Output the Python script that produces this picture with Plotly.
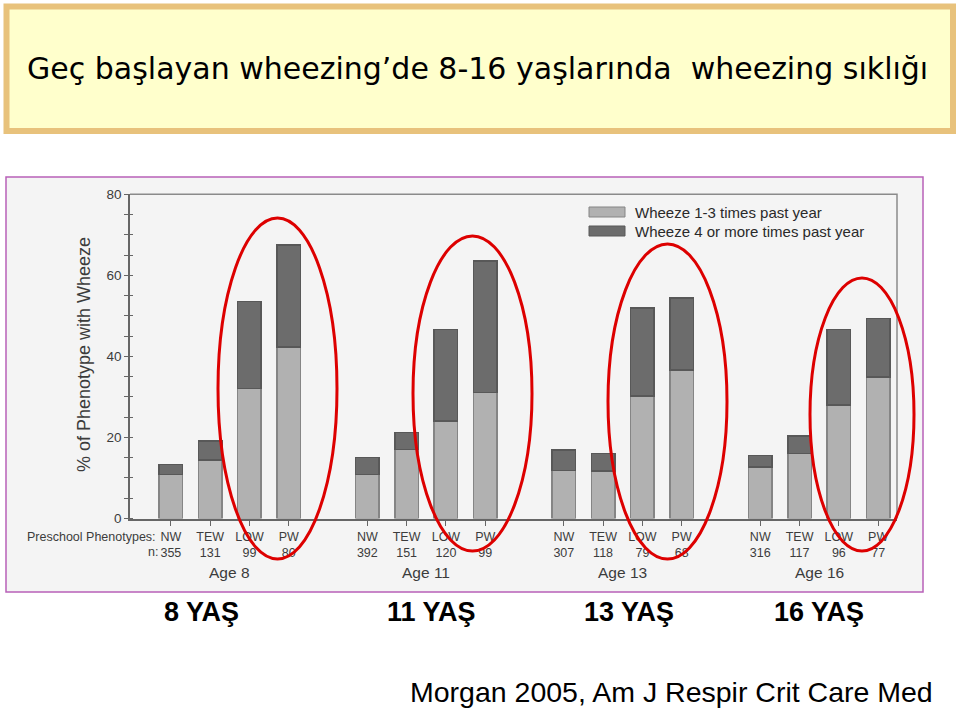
import plotly.graph_objects as go

W, H = 960, 708

# data (Morgan 2005)
ages = ["8", "11", "13", "16"]
phenotypes = ["NW", "TEW", "LOW", "PW"]
n_counts = [
    [355, 131, 99, 80],
    [392, 151, 120, 99],
    [307, 118, 79, 68],
    [316, 117, 96, 77],
]
wheeze_1_3 = [
    [10.9, 14.4, 32.1, 42.3],
    [10.9, 17.0, 24.0, 31.1],
    [11.9, 11.7, 30.2, 36.6],
    [12.7, 16.0, 28.0, 34.9],
]
wheeze_4_plus = [
    [2.4, 4.7, 21.4, 25.2],
    [4.1, 4.2, 22.7, 32.5],
    [5.0, 4.3, 21.7, 17.8],
    [2.9, 4.4, 18.7, 14.5],
]
series_names = ["Wheeze 1-3 times past year", "Wheeze 4 or more times past year"]
y_ticks = [0, 20, 40, 60, 80]

title_text = "Geç başlayan wheezing’de 8-16 yaşlarında  wheezing sıklığı"
citation = "Morgan 2005, Am J Respir Crit Care Med"


def px(x):
    return x / W


def py(y):
    return 1 - y / H


# bar positions: 4 bars per age, one empty slot between ages
positions = []
tick_text = []
light_vals = []
dark_vals = []
for g, age in enumerate(ages):
    for i, ph in enumerate(phenotypes):
        positions.append(g * 5 + i)
        tick_text.append(f"{ph}<br>{n_counts[g][i]}")
        light_vals.append(wheeze_1_3[g][i])
        dark_vals.append(wheeze_4_plus[g][i])

fig = go.Figure()
fig.add_trace(
    go.Bar(
        x=positions,
        y=light_vals,
        name=series_names[0],
        width=0.6,
        marker={"color": "#b1b1b1", "line": {"color": "#858585", "width": 1.5}},
    )
)
fig.add_trace(
    go.Bar(
        x=positions,
        y=dark_vals,
        name=series_names[1],
        width=0.6,
        marker={"color": "#6c6c6c", "line": {"color": "#585858", "width": 1.5}},
    )
)

axis_font = {"family": "Liberation Sans, Arial", "size": 12.5, "color": "#3c3c3c"}

fig.update_layout(
    width=W,
    height=H,
    barmode="stack",
    showlegend=False,
    margin={"l": 0, "r": 0, "t": 0, "b": 0},
    paper_bgcolor="white",
    plot_bgcolor="rgba(0,0,0,0)",
    xaxis={
        "domain": [px(130), px(897)],
        "range": [-1.04, 18.48],
        "tickvals": positions,
        "ticktext": tick_text,
        "ticks": "outside",
        "ticklen": 5,
        "tickcolor": "#666",
        "tickfont": axis_font,
        "showline": True,
        "linecolor": "#666",
        "linewidth": 2,
        "showgrid": False,
        "zeroline": False,
        "automargin": False,
    },
    yaxis={
        "domain": [py(518.5), py(194.3)],
        "range": [0, 80],
        "tickvals": list(range(0, 81, 5)),
        "ticktext": [str(v) if v in y_ticks else "" for v in range(0, 81, 5)],
        "ticks": "outside",
        "ticklen": 4,
        "tickcolor": "#666",
        "tickfont": {"family": "Liberation Sans, Arial", "size": 13.5, "color": "#3c3c3c"},
        "minor": {"dtick": 5, "ticks": "inside", "ticklen": 3, "tickcolor": "#666"},
        "showline": True,
        "linecolor": "#666",
        "linewidth": 1.5,
        "showgrid": False,
        "zeroline": False,
        "automargin": False,
    },
)

shapes = []
# title box
shapes.append(
    dict(type="rect", xref="paper", yref="paper",
         x0=px(6.5), x1=px(953), y0=py(6.5), y1=py(131),
         fillcolor="#ffffcc", line={"color": "#e8c27c", "width": 6}, layer="below")
)
# chart frame
shapes.append(
    dict(type="rect", xref="paper", yref="paper",
         x0=px(6), x1=px(923), y0=py(177), y1=py(592),
         fillcolor="#f4f4f4", line={"color": "#b860b8", "width": 1.5}, layer="below")
)
# top / right plot border
shapes.append(
    dict(type="path", xref="paper", yref="paper",
         path=f"M {px(130)} {py(194.3)} L {px(897)} {py(194.3)} L {px(897)} {py(518.5)}",
         line={"color": "#8a8a8a", "width": 1.5})
)
# legend swatches
shapes.append(dict(type="rect", xref="paper", yref="paper", x0=px(589), x1=px(625),
                   y0=py(207), y1=py(217), fillcolor="#b1b1b1",
                   line={"color": "#858585", "width": 1}))
shapes.append(dict(type="rect", xref="paper", yref="paper", x0=px(589), x1=px(625),
                   y0=py(226), y1=py(236), fillcolor="#6c6c6c",
                   line={"color": "#585858", "width": 1}))
# red ellipses around LOW / PW
for (x0, x1, y0, y1) in [(218, 337, 218, 559), (413, 532, 236, 551),
                         (608, 727, 244, 559), (810, 914, 278, 551)]:
    shapes.append(dict(type="circle", xref="paper", yref="paper",
                       x0=px(x0), x1=px(x1), y0=py(y1), y1=py(y0),
                       line={"color": "#dd0000", "width": 3}))
fig.update_layout(shapes=shapes)

annotations = [
    dict(x=px(477), y=py(68), text=title_text,
         font={"family": "DejaVu Sans", "size": 30, "color": "black"}),
    dict(x=px(84), y=py(355), text="% of Phenotype with Wheeze", textangle=-90,
         font={"family": "Liberation Sans, Arial", "size": 18, "color": "#3c3c3c"}),
    dict(x=px(158), y=py(537), text="Preschool Phenotypes:", xanchor="right", font=axis_font),
    dict(x=px(160), y=py(552), text="n:", xanchor="right", font=axis_font),
    dict(x=px(633), y=py(212), text=series_names[0], xanchor="left",
         font={"family": "Liberation Sans, Arial", "size": 15, "color": "#2a2a2a"}),
    dict(x=px(633), y=py(231), text=series_names[1], xanchor="left",
         font={"family": "Liberation Sans, Arial", "size": 15, "color": "#2a2a2a"}),
    dict(x=px(935), y=py(692), xanchor="right", text=citation,
         font={"family": "Liberation Sans, Arial", "size": 28.5, "color": "black"}),
]
for g, age in enumerate(ages):
    annotations.append(
        dict(x=g * 5 + 1.5, xref="x", y=py(572), text=f"Age {age}",
             font={"family": "Liberation Sans, Arial", "size": 15.5, "color": "#3c3c3c"})
    )
    annotations.append(
        dict(x=[px(201), px(431), px(629), px(819)][g], y=py(612), text=f"{age} YAŞ",
             font={"family": "Liberation Sans, Arial", "size": 27, "color": "black", "weight": "bold"})
    )
for a in annotations:
    a.setdefault("xref", "paper")
    a.setdefault("yref", "paper")
    a.setdefault("xanchor", "center")
    a.setdefault("yanchor", "middle")
    a.setdefault("showarrow", False)
fig.update_layout(annotations=annotations)

# drop the default page margin so the figure sits at the window's corner
fig.write_html(
    "out.html",
    config={"displayModeBar": False},
    post_script="document.body.style.margin='0px';",
)
